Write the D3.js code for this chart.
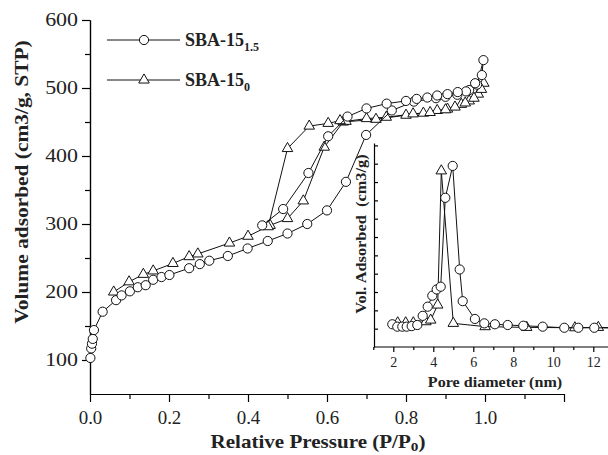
<!DOCTYPE html>
<html>
<head>
<meta charset="utf-8">
<script src="https://cdn.jsdelivr.net/npm/d3@7"></script>
<style>
  body { margin: 0; background: #fff; }
  text { font-family: "Liberation Serif", "Times New Roman", serif; }
</style>
</head>
<body>
<div id="chart"></div>
<script>
// isotherm, SBA-15(1.5): adsorption then desorption
const p15 = [0.001, 0.003, 0.005, 0.007, 0.010, 0.032, 0.066, 0.080, 0.101, 0.121, 0.141, 0.160, 0.181, 0.201,
  0.251, 0.278, 0.302, 0.349, 0.399, 0.450, 0.500, 0.550, 0.600, 0.648, 0.699, 0.764, 0.820, 0.876, 0.900,
  0.930, 0.960, 0.980, 0.996,
  0.992, 0.975, 0.952, 0.931, 0.905, 0.879, 0.854, 0.827, 0.800, 0.751, 0.700, 0.652, 0.603, 0.553, 0.489, 0.436];
const v15 = [103, 117, 124, 131, 144, 171, 188, 195, 201, 207, 210, 218, 222, 225,
  235, 241, 246, 253, 264, 275, 286, 300, 320, 362, 431, 467, 480, 485, 487,
  490, 497, 505, 541,
  519, 507, 495, 494, 491, 489, 486, 484, 481, 477, 470, 458, 429, 375, 322, 298];

// isotherm, SBA-15(0)
const p0 = [0.060, 0.099, 0.135, 0.160, 0.210, 0.251, 0.273, 0.353, 0.400, 0.456, 0.500, 0.540, 0.593, 0.641,
  0.724, 0.800, 0.844, 0.879, 0.905, 0.940, 0.960, 0.983, 0.997,
  0.991, 0.972, 0.950, 0.924, 0.900, 0.861, 0.818, 0.750, 0.700, 0.648, 0.633, 0.603, 0.555, 0.500, 0.451];
const v0 = [200, 215, 226, 231, 242, 252, 256, 272, 282, 298, 308, 334, 413, 450,
  454, 460, 463, 467, 469, 476, 481, 491, 507,
  498, 485, 478, 472, 468, 464, 462, 457, 455, 451, 452, 448, 444, 411, 296];

// pore size distribution (inset)
const d15 = [1.95, 2.2, 2.45, 2.67, 2.92, 3.2, 3.47, 3.72, 3.95, 4.17, 4.37, 4.6, 4.97, 5.32, 5.47, 6.08, 6.55,
  7.08, 7.72, 8.5, 9.47, 10.55, 11.25, 12.05, 13.3];
const pv15 = [1.24, 1.11, 1.11, 1.11, 1.14, 1.2, 1.7, 2.2, 2.8, 3.14, 3.29, 8.14, 9.88, 4.23, 2.5, 1.53, 1.29,
  1.24, 1.2, 1.16, 1.11, 1.05, 1.05, 1.05, 1.03];
const d0 = [2.22, 2.62, 3.0, 3.63, 3.87, 4.22, 4.4, 5.0, 6.59, 8.67, 11.08, 12.25, 13.3];
const pv0 = [1.32, 1.32, 1.32, 1.38, 1.47, 2.29, 9.61, 1.29, 1.11, 1.07, 1.05, 1.07, 1.05];

const xTicks = [0, 0.2, 0.4, 0.6, 0.8, 1.0, 1.2];
const yTicks = [100, 200, 300, 400, 500, 600];

const width = 608, height = 455;

const svg = d3.select("#chart").append("svg")
    .attr("width", width)
    .attr("height", height);

const x = d3.scaleLinear().domain([0, 1.2]).range([90, 564]);
const y = d3.scaleLinear().domain([50, 600]).range([394, 20]);

const ix = d3.scaleLinear().domain([2, 12]).range([393.3, 593.3]);
const iy = d3.scaleLinear().domain([0, 11.13]).range([347, 143]);

function styleAxis(g, size) {
  g.select(".domain").attr("stroke", "#000").attr("stroke-width", 1.2);
  g.selectAll(".tick line").attr("stroke", "#000").attr("stroke-width", 1.2);
  g.selectAll(".tick text").attr("fill", "#222").attr("font-size", size)
    .attr("font-family", "Liberation Serif, serif");
}

// main x axis: minor ticks then major
svg.append("g")
    .attr("transform", `translate(0,${y(50)})`)
    .call(d3.axisBottom(x).tickValues(d3.range(0.1, 1.2, 0.2)).tickSize(5).tickFormat("").tickSizeOuter(0))
    .call(g => styleAxis(g, 18));
svg.append("g")
    .attr("transform", `translate(0,${y(50)})`)
    .call(d3.axisBottom(x).tickValues(xTicks).tickSize(8).tickPadding(9).tickSizeOuter(0)
      .tickFormat(d => d > 1.1 ? "" : d3.format(".1f")(d)))
    .call(g => styleAxis(g, 18))
    .call(g => g.selectAll(".tick text").attr("transform", "scale(1.05,1)"));

// main y axis
svg.append("g")
    .attr("transform", `translate(${x(0)},0)`)
    .call(d3.axisLeft(y).tickValues(d3.range(150, 600, 100)).tickSize(5).tickFormat("").tickSizeOuter(0))
    .call(g => styleAxis(g, 18));
svg.append("g")
    .attr("transform", `translate(${x(0)},0)`)
    .call(d3.axisLeft(y).tickValues(yTicks).tickSize(8).tickPadding(1.8).tickSizeOuter(0))
    .call(g => styleAxis(g, 18))
    .call(g => g.selectAll(".tick text").attr("transform", "scale(1.22,1)"));

// axis titles
svg.append("text")
    .attr("transform", "translate(28,182) rotate(-90) scale(1.19,1)")
    .attr("text-anchor", "middle")
    .attr("font-size", 18).attr("font-weight", "bold").attr("fill", "#222")
    .text("Volume adsorbed (cm3/g, STP)");

const xt = svg.append("text")
    .attr("transform", "translate(318,448) scale(1.17,1)")
    .attr("text-anchor", "middle")
    .attr("font-size", 18).attr("font-weight", "bold").attr("fill", "#222");
xt.append("tspan").text("Relative Pressure (P/P");
xt.append("tspan").attr("font-size", 13).attr("dy", 3).text("0");
xt.append("tspan").attr("dy", -3).text(")");

const tri = d3.symbol().type(d3.symbolTriangle).size(48);

function drawSeries(xs, ys, sx, sy, shape, r) {
  const pts = xs.map((d, i) => [sx(d), sy(ys[i])]);
  svg.append("path")
      .attr("d", d3.line()(pts))
      .attr("fill", "none")
      .attr("stroke", "#111")
      .attr("stroke-width", 1);
  const g = svg.append("g").attr("fill", "#fff").attr("stroke", "#111").attr("stroke-width", 1);
  if (shape === "circle") {
    g.selectAll("circle").data(pts).join("circle")
        .attr("cx", d => d[0]).attr("cy", d => d[1]).attr("r", r);
  } else {
    g.selectAll("path").data(pts).join("path")
        .attr("transform", d => `translate(${d[0]},${d[1]})`)
        .attr("d", tri);
  }
}

drawSeries(p0, v0, x, y, "triangle");
drawSeries(p15, v15, x, y, "circle", 4.6);

// legend
const legend = [
  { name: "SBA-15", sub: "1.5", shape: "circle", y: 40 },
  { name: "SBA-15", sub: "0", shape: "triangle", y: 80 }
];
legend.forEach(l => {
  svg.append("line").attr("x1", 107).attr("x2", 180).attr("y1", l.y).attr("y2", l.y)
      .attr("stroke", "#111").attr("stroke-width", 1);
  if (l.shape === "circle") {
    svg.append("circle").attr("cx", 144).attr("cy", l.y).attr("r", 4.6)
        .attr("fill", "#fff").attr("stroke", "#111");
  } else {
    svg.append("path").attr("transform", `translate(144,${l.y})`).attr("d", tri)
        .attr("fill", "#fff").attr("stroke", "#111");
  }
  const t = svg.append("text").attr("x", 185).attr("y", l.y + 6)
      .attr("font-size", 18).attr("font-weight", "bold").attr("fill", "#222");
  t.append("tspan").text(l.name);
  t.append("tspan").attr("font-size", 12).attr("dy", 5).text(l.sub);
});

// inset axes
svg.append("g")
    .attr("transform", `translate(0,347)`)
    .call(d3.axisBottom(ix).tickValues([1, 3, 5, 7, 9, 11, 13]).tickSize(3).tickFormat("").tickSizeOuter(0))
    .call(g => g.select(".domain").remove())
    .call(g => styleAxis(g, 14));
svg.append("line").attr("x1", 374).attr("x2", 610).attr("y1", 347).attr("y2", 347)
    .attr("stroke", "#000").attr("stroke-width", 1.2);
svg.append("g")
    .attr("transform", `translate(0,347)`)
    .call(d3.axisBottom(ix).tickValues([2, 4, 6, 8, 10, 12]).tickSize(5).tickPadding(5))
    .call(g => g.select(".domain").remove())
    .call(g => styleAxis(g, 14));
svg.append("g")
    .attr("transform", `translate(374,0)`)
    .call(d3.axisRight(iy).tickValues(d3.range(1, 12)).tickSize(4).tickFormat("").tickSizeOuter(0))
    .call(g => styleAxis(g, 14));

svg.append("text")
    .attr("transform", "translate(495,387) scale(1.15,1)")
    .attr("text-anchor", "middle")
    .attr("font-size", 14).attr("font-weight", "bold").attr("fill", "#222")
    .text("Pore diameter (nm)");
svg.append("text")
    .attr("transform", "translate(366,234) rotate(-90) scale(1.17,1)")
    .attr("text-anchor", "middle")
    .attr("font-size", 14).attr("font-weight", "bold").attr("fill", "#222")
    .attr("xml:space", "preserve")
    .style("white-space", "pre")
    .text("Vol. Adsorbed  (cm3/g)");

drawSeries(d0, pv0, ix, iy, "triangle");
drawSeries(d15, pv15, ix, iy, "circle", 4.6);
</script>
</body>
</html>
